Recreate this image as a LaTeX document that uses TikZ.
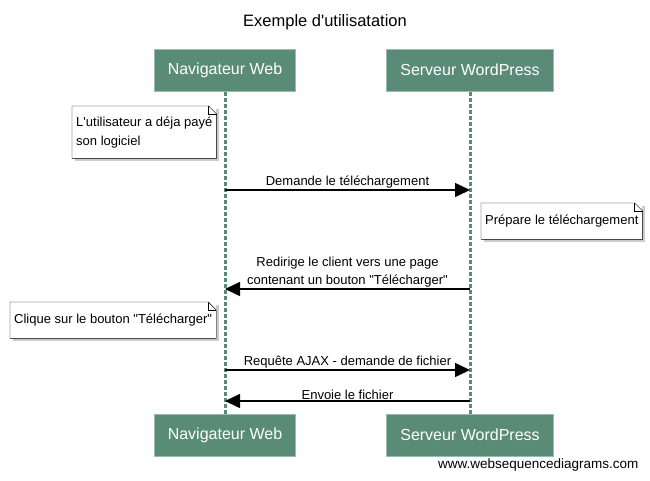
\documentclass[tikz,border=0pt]{standalone}
\usepackage{fontspec}
\setmainfont{Liberation Sans}
\usetikzlibrary{arrows.meta,shadows}
\definecolor{actorgreen}{RGB}{89,139,119}
\definecolor{actorline}{RGB}{150,190,172}

\begin{document}
\begin{tikzpicture}[x=1pt,y=-1pt,
  actor/.style={fill=actorgreen,draw=actorline,line width=1pt,text=white,
    minimum width=#1,minimum height=42pt,font=\fontsize{16}{18}\selectfont},
  lifeline/.style={actorgreen,line width=3pt,dash pattern=on 4pt off 2pt},
  msg/.style={line width=1.5pt,-{Triangle[length=15pt,width=14pt]}},
  msglabel/.style={font=\fontsize{13}{18}\selectfont,align=center,inner sep=1pt},
  note/.style={fill=white,align=left,inner xsep=4pt,minimum height=#1,
    font=\fontsize{13}{19}\selectfont,
    drop shadow={shadow xshift=3pt,shadow yshift=-3pt,fill=black!40}},
]
  \useasboundingbox (0,0) rectangle (650,480);

  % Title
  \node[font=\fontsize{16.5}{20}\selectfont] (title) at (325,22) {Exemple d\textquotesingle utilisatation};

  % Actors, top and bottom
  \node[actor=141pt] (navTop) at (225,70) {Navigateur Web};
  \node[actor=167pt] (srvTop) at (470,70) {Serveur WordPress};
  \node[actor=141pt] (navBot) at (225,435) {Navigateur Web};
  \node[actor=167pt] (srvBot) at (470,435) {Serveur WordPress};

  % Lifelines
  \draw[lifeline] (navTop) -- (navBot);
  \draw[lifeline] (srvTop) -- (srvBot);

  % Notes
  \node[note=52pt,minimum width=142pt,anchor=north west] (noteA) at (72,106)
    {L\textquotesingle utilisateur a déja payé\\son logiciel};
  \node[note=36pt,minimum width=160pt,anchor=north west] (noteB) at (481,203)
    {Prépare le téléchargement};
  \node[note=36pt,minimum width=204pt,anchor=north west] (noteC) at (10,302)
    {Clique sur le bouton \textquotedbl Télécharger\textquotedbl};

  % Note outlines with folded corner
  \foreach \n in {noteA,noteB,noteC}{
    \draw (\n.south west) -- (\n.north west) -- ([xshift=-8pt]\n.north east)
      -- ([yshift=-8pt]\n.north east) -- (\n.south east) -- cycle;
    \draw ([xshift=-8pt]\n.north east) -- ([xshift=-8pt,yshift=-8pt]\n.north east)
      -- ([yshift=-8pt]\n.north east);
  }

  % Messages
  \foreach \y/\from/\to/\txt in {
      190/navTop/srvTop/{Demande le téléchargement},
      289/srvTop/navTop/{Redirige le client vers une page\\contenant un bouton \textquotedbl Télécharger\textquotedbl},
      370/navTop/srvTop/{Requête AJAX - demande de fichier},
      401/srvTop/navTop/{Envoie le fichier}}{
    \draw[msg] (\from |- 0,\y) -- node[msglabel,above] {\txt} (\to |- 0,\y);
  }

  % Footer
  \node[anchor=east,font=\fontsize{13.5}{16}\selectfont] (footer) at (642,465)
    {www.websequencediagrams.com};

\end{tikzpicture}
\end{document}
